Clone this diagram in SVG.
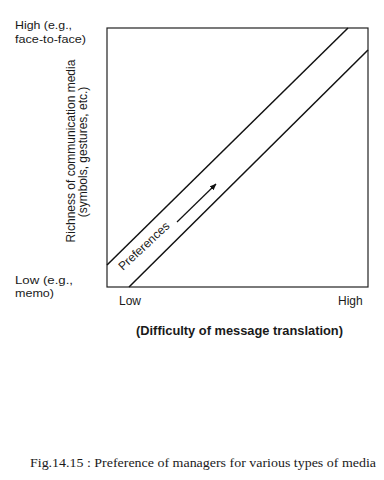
<svg xmlns="http://www.w3.org/2000/svg" width="384" height="480" viewBox="0 0 384 480">
<style>
.t{font-family:"Liberation Sans",Arial,sans-serif;font-size:12px;fill:#1a1a1a}
.s{font-family:"Liberation Sans",Arial,sans-serif;font-size:11.5px;fill:#1a1a1a}
.b{font-family:"Liberation Sans",Arial,sans-serif;font-size:12px;font-weight:bold;fill:#1a1a1a}
.c{font-family:"Liberation Serif","Times New Roman",serif;font-size:11.5px;fill:#1a1a1a}
.ax{fill:none;stroke:#222;stroke-width:1.2}
.dg{fill:none;stroke:#111;stroke-width:1.5}
</style>
<defs>
<marker id="ah" viewBox="0 0 10 10" refX="9" refY="5" markerWidth="7" markerHeight="7" markerUnits="userSpaceOnUse" orient="auto">
<path d="M0,1 L10,5 L0,9 Z" fill="#111"/>
</marker>
</defs>
<rect width="384" height="480" fill="#fff"/>
<g id="frame">
<rect class="ax" x="107" y="28" width="261" height="259"/>
</g>
<g id="connectors">
<line class="dg" x1="107" y1="265" x2="348" y2="28"/>
<line class="dg" x1="129" y1="287" x2="368" y2="50" stroke-width="1.8"/>
<line x1="177" y1="222" x2="216" y2="184" stroke="#111" stroke-width="1.2" marker-end="url(#ah)"/>
</g>
<g id="labels">
<text class="s" x="15" y="29" textLength="57" lengthAdjust="spacingAndGlyphs">High (e.g.,</text>
<text class="s" x="15" y="42.5" textLength="71" lengthAdjust="spacingAndGlyphs">face-to-face)</text>
<text class="s" x="15" y="283.5" textLength="58" lengthAdjust="spacingAndGlyphs">Low (e.g.,</text>
<text class="s" x="15" y="297" textLength="39" lengthAdjust="spacingAndGlyphs">memo)</text>
<text class="t" x="119" y="305">Low</text>
<text class="t" x="338" y="305">High</text>
<text class="b" x="136" y="335" textLength="207" lengthAdjust="spacingAndGlyphs">(Difficulty of message translation)</text>
<text class="t" transform="translate(75,151) rotate(-90)" text-anchor="middle">Richness of communication media</text>
<text class="t" transform="translate(86.5,152) rotate(-90)" text-anchor="middle">(symbols, gestures, etc.)</text>
<text class="t" transform="translate(123,271) rotate(-43)">Preferences</text>
<text class="c" x="30" y="467" textLength="346" lengthAdjust="spacingAndGlyphs">Fig.14.15 : Preference of managers for various types of media</text>
</g>
</svg>
